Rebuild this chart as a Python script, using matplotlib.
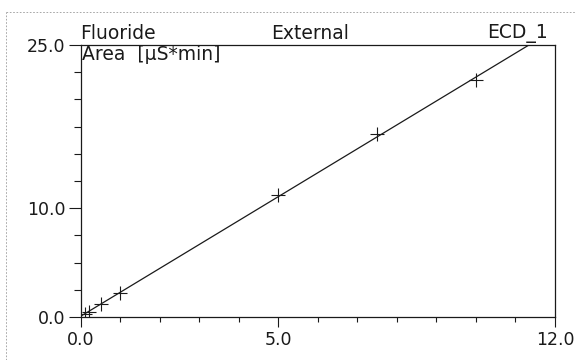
import numpy as np
import matplotlib
matplotlib.use("Agg")
import matplotlib.pyplot as plt
from matplotlib.lines import Line2D

plt.rcParams['font.family'] = ['DejaVu Sans']

# Calibration standards: amount vs. peak area
amount = [0.1, 0.2, 0.5, 1.0, 5.0, 7.5, 10.0]
area = [0.30, 0.49, 1.17, 2.19, 11.25, 16.8, 21.8]

x_ticklabels = ["0.0", "5.0", "12.0"]
y_ticklabels = ["0.0", "10.0", "25.0"]

peak_name = "Fluoride"
cal_type = "External"
detector = "ECD_1"
y_title = "Area  [µS*min]"

ink = "#1a1a1a"
fs_ticks = 12.5
fs_text = 13.5

fig = plt.figure(figsize=(5.76, 3.6), dpi=100)
ax = fig.add_axes([0.1406, 0.1194, 0.8229, 0.7556])

# Linear calibration curve through the standards
coef = np.polyfit(amount, area, 1)
xs = np.linspace(0, 12, 400)
ax.plot(xs, np.polyval(coef, xs), color=ink, lw=0.9)
ax.plot(amount, area, linestyle="none", marker="+", ms=10, mew=0.8, color=ink)

ax.set_xlim(0, 12)
ax.set_ylim(0, 25)

for s in ax.spines.values():
    s.set_linewidth(0.9)
    s.set_color(ink)

ax.set_xticks([float(t) for t in x_ticklabels])
ax.set_xticklabels(x_ticklabels)
ax.set_xticks(np.arange(0, 12.01, 1.0), minor=True)
ax.set_yticks([float(t) for t in y_ticklabels])
ax.set_yticklabels(y_ticklabels)
ax.set_yticks(np.arange(0, 25.01, 2.5), minor=True)

ax.tick_params(axis="both", which="major", direction="out", width=0.8,
               color=ink, labelsize=fs_ticks, labelcolor=ink)
ax.tick_params(axis="x", which="major", length=7, pad=3)
ax.tick_params(axis="y", which="major", length=9, pad=2)
ax.tick_params(axis="x", which="minor", direction="out", length=3.5, width=0.8, color=ink)
ax.tick_params(axis="y", which="minor", direction="out", length=5, width=0.8, color=ink)

# Header line above the plot area
fig.text(0.1389, 0.908, peak_name, fontsize=fs_text, color=ink, ha="left", va="center")
fig.text(0.538, 0.908, cal_type, fontsize=fs_text, color=ink, ha="center", va="center")
fig.text(0.952, 0.908, detector, fontsize=fs_text, color=ink, ha="right", va="center")
ax.text(0.003, 1.0, y_title, transform=ax.transAxes, fontsize=fs_text, color=ink,
        ha="left", va="top")

# Thin page frame
frame_kw = dict(color="#9a9a9a", lw=0.6, linestyle=(0, (2, 2)), transform=fig.transFigure)
fig.add_artist(Line2D([0.01, 1.0], [0.967, 0.967], **frame_kw))
fig.add_artist(Line2D([0.01, 0.01], [0.0, 0.967], **frame_kw))

fig.savefig("out.png", dpi=100, facecolor="white")
